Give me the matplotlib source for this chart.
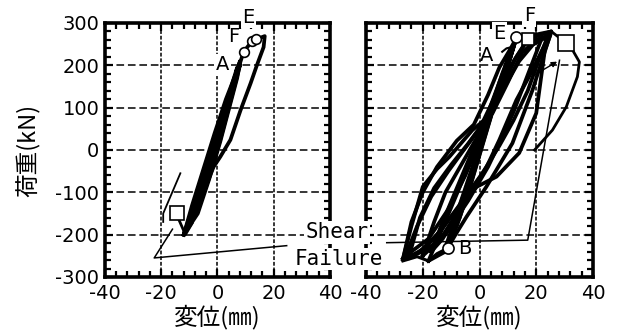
import matplotlib
matplotlib.use('Agg')
import matplotlib.pyplot as plt
from matplotlib.ticker import MultipleLocator

plt.rcParams['font.family'] = ['DejaVu Sans']
plt.rcParams['axes.unicode_minus'] = False
cjk = ['Noto Sans CJK JP', 'DejaVu Sans']

# ---- left specimen: hysteresis loops (displacement mm, load kN)
L1_x = [-12, -9, -5, -1, 3, 8, 7, 4, 1, -3, -7, -12]
L1_y = [-200, -130, -45, 40, 120, 205, 170, 95, 20, -70, -150, -200]
L2_x = [-11, -8, -4, 0, 4, 7, 6, 3, 0, -4, -8, -11]
L2_y = [-185, -120, -40, 45, 130, 195, 160, 80, 5, -85, -155, -185]
L3_x = [-10, -6, -2, 2, 6, 8, 7, 4, 1, -3, -7, -10]
L3_y = [-175, -95, -10, 80, 170, 200, 175, 100, 25, -65, -140, -175]
L5_x = [-12, -9.5, -6, -2, 2, 6, 8, 6.5, 3.5, 0, -4, -8, -12]
L5_y = [-200, -150, -85, -5, 75, 160, 210, 175, 110, 35, -50, -130, -200]
L6_x = [-9, -6, -3, 0, 3, 6, 5, 2, -1, -5, -9]
L6_y = [-165, -105, -40, 25, 95, 160, 140, 70, 0, -90, -165]
L4_x = [-12, -8, -4, 0, 4, 8, 9.3, 12.4, 14, 16.8, 16.4, 14, 11.8, 8.2, 4.6, 1, -1.4, -5, -9, -12]
L4_y = [-200, -125, -45, 35, 120, 205, 232, 258, 262, 269, 243, 200, 158, 94, 24, -16, -40, -100, -160, -200]
LV_x = [-13.7, -11.4, -9.0]
LV_y = [-165, -200, -173]
LP_x = [-19.3, -19.3, -13.2]
LP_y = [-170, -150, -55]
LS_x = [24.6, -22.5, -16]
LS_y = [-226, -255, -187]
L_circ_x = [9.3, 12.3, 13.6]
L_circ_y = [232, 258, 261]
L_sq_x = [-14.3]
L_sq_y = [-148]

# ---- right specimen
R1_x = [-27, -24, -20, -15, -8, -2, 3, 7, 11, 13, 18, 25.3, 22, 18, 13, 7, 2.5, -8, -14, -20, -27]
R1_y = [-258, -170, -100, -40, 22, 60, 130, 195, 240, 265, 270, 280, 235, 180, 118, 24, -40, -150, -213, -240, -258]
R2_x = [-18, -14, -9, -4, 2, 8, 13, 17, 25.3, 18.7, 11.6, 2.4, -4.6, -8.1, -12, -18]
R2_y = [-262, -200, -120, -40, 50, 150, 220, 262, 280, 142, 16, -87, -158, -196, -240, -262]
R3_x = [-26, -22, -17, -11, -5, 0, 5, 10, 13, 11, 8, 4, 0, -5, -11, -18, -26]
R3_y = [-250, -180, -110, -50, 5, 50, 120, 200, 265, 220, 160, 90, 20, -60, -140, -210, -250]
R4_x = [-17, -13, -8, -3, 2, 7, 11, 13, 10, 6, 2, -3, -8, -13, -17]
R4_y = [-240, -170, -90, -10, 70, 160, 230, 265, 200, 120, 40, -60, -150, -210, -240]
R5_x = [-12, -8, -4, 0, 4, 8, 10, 8, 4, 0, -4, -8, -12]
R5_y = [-230, -150, -70, 10, 100, 180, 215, 170, 80, -10, -100, -180, -230]
R6_x = [-27, -24, -20, -15, -10.6, -2.5, 4.6, 10, 15, 20, 25, 23, 20, 14, 6, -1, -8, -15, -21, -27]
R6_y = [-258, -180, -87, -45, -16, 47, 87, 160, 230, 260, 272, 235, 87, -7, -63, -87, -140, -200, -240, -258]
R7_x = [-20, -16, -12, -6, 0, 6, 12, 16, 22, 20, 16, 12, 8, 3, -4, -12, -20]
R7_y = [-250, -170, -100, -30, 40, 130, 210, 250, 265, 230, 160, 90, 30, -40, -120, -200, -250]
R8_x = [-25, -21, -16, -10, -4, 2, 8, 14, 19, 24, 21, 17, 12, 7, 1, -6, -13, -19, -25]
R8_y = [-255, -160, -90, -35, 15, 70, 140, 210, 250, 268, 215, 140, 70, 10, -55, -120, -185, -230, -255]
R9_x = [-10, -7, -3, 1, 5, 9, 11, 9, 5, 1, -3, -7, -10]
R9_y = [-205, -140, -60, 20, 110, 190, 230, 190, 100, 10, -80, -160, -205]
RF_x = [25.3, 30.6, 32.8, 35.2, 34.5, 30.6, 25.7, 19.4]
RF_y = [280, 252, 236, 208, 173, 102, 47, 0]
RC_x = [12.5, 11.3, 9.5, 8.0]
RC_y = [258, 243, 240, 232]
RB_x = [-27, -22, -18, -15, -11.2]
RB_y = [-262, -252, -262, -245, -232]
RS_x = [-32.7, 17, 28.2]
RS_y = [-219, -213, 212]
R_circ_x = [13, -11.2]
R_circ_y = [267, -232]
R_sqF_x = [17]
R_sqF_y = [262]
R_sq_x = [30.6]
R_sq_y = [252]

x_ticks = [-40, -20, 0, 20, 40]
y_ticks = [-300, -200, -100, 0, 100, 200, 300]

fig = plt.figure(figsize=(6.19, 3.32), dpi=100)
axL = fig.add_axes([0.1696, 0.1657, 0.3635, 0.7651])
axR = fig.add_axes([0.5913, 0.1657, 0.3667, 0.7651])


def style(ax, ylabels):
    ax.set_xlim(-40, 40)
    ax.set_ylim(-300, 300)
    ax.set_xticks(x_ticks)
    ax.set_yticks(y_ticks)
    ax.xaxis.set_minor_locator(MultipleLocator(4))
    ax.yaxis.set_minor_locator(MultipleLocator(20))
    ax.tick_params(which='both', direction='in', top=True, right=True,
                   width=1.6, labelsize=14)
    ax.tick_params(axis='x', pad=5)
    ax.tick_params(axis='y', pad=4)
    ax.tick_params(which='major', length=6)
    ax.tick_params(which='minor', length=4)
    if not ylabels:
        ax.tick_params(labelleft=False)
    for s in ax.spines.values():
        s.set_linewidth(2.6)
    for v in [-20, 0, 20]:
        ax.axvline(v, color='black', lw=1.1, ls=(0, (2.5, 1.2)), zorder=0)
    for h in [-200, -100, 0, 100, 200]:
        ax.axhline(h, color='black', lw=1.1, ls=(0, (5, 2.5)), zorder=0)
    ax.set_xlabel('変位(㎜)', family=cjk, fontsize=17)
    ax.xaxis.set_label_coords(0.5, -0.157)
    ax.xaxis.label.set_va('center')


style(axL, True)
style(axR, False)
axL.set_ylabel('荷重(kN)', family=cjk, fontsize=17)
axL.yaxis.set_label_coords(-0.342, 0.5)
axL.yaxis.label.set_va('center')

lw = 2.7
for xs, ys in [(L1_x, L1_y), (L2_x, L2_y), (L3_x, L3_y), (L5_x, L5_y),
               (L6_x, L6_y), (L4_x, L4_y)]:
    axL.plot(xs, ys, color='black', lw=lw, zorder=2)
axL.plot(LV_x, LV_y, color='black', lw=2.0, zorder=2)
axL.plot(LP_x, LP_y, color='black', lw=1.3, zorder=2)
axL.plot(LS_x, LS_y, color='black', lw=1.1, zorder=2)
axL.plot(L_circ_x, L_circ_y, 'o', ms=7, mfc='white', mec='black', mew=1.2, zorder=3)
axL.plot(L_sq_x, L_sq_y, 's', ms=10, mfc='white', mec='black', mew=1.2, zorder=3)

box = dict(facecolor='white', edgecolor='none', pad=1)
axL.text(11, 313, 'E', fontsize=14, ha='center', va='center', bbox=box,
         clip_on=False, zorder=5)
axL.text(5.7, 267, 'F', fontsize=14, ha='center', va='center', zorder=5)
axL.text(1.8, 201, 'A', fontsize=14, ha='center', va='center', bbox=box, zorder=5)

for xs, ys in [(R1_x, R1_y), (R2_x, R2_y), (R3_x, R3_y), (R4_x, R4_y),
               (R5_x, R5_y), (R6_x, R6_y), (R7_x, R7_y), (R8_x, R8_y),
               (R9_x, R9_y)]:
    axR.plot(xs, ys, color='black', lw=lw, zorder=2)
axR.plot(RF_x, RF_y, color='black', lw=2.0, zorder=2)
axR.plot(RC_x, RC_y, color='black', lw=1.5, zorder=2)
axR.plot(RB_x, RB_y, color='black', lw=2.2, zorder=2)
axR.plot(RS_x, RS_y, color='black', lw=1.1, zorder=2)
axR.annotate('', xy=(RS_x[-1], RS_y[-1]), xytext=(RS_x[-2] + 1, RS_y[-1] - 40),
             arrowprops=dict(arrowstyle='-|>', color='black', lw=1.0,
                             mutation_scale=8))
axR.plot(R_circ_x, R_circ_y, 'o', ms=8, mfc='white', mec='black', mew=1.2, zorder=3)
axR.plot(R_sqF_x, R_sqF_y, 's', ms=8, mfc='white', mec='black', mew=1.2, zorder=3)
axR.plot(R_sq_x, R_sq_y, 's', ms=11, mfc='white', mec='black', mew=1.2, zorder=3)
axR.text(7, 276, 'E', fontsize=14, ha='center', va='center', bbox=box,
         clip_on=False, zorder=5)
axR.text(17.6, 317, 'F', fontsize=14, ha='center', va='center', bbox=box,
         clip_on=False, zorder=5)
axR.text(2.5, 224, 'A', fontsize=14, ha='center', va='center', zorder=5)
axR.text(-5.3, -232, 'B', fontsize=14, ha='center', va='center', zorder=5)

fig.text(0.545, 0.301, 'Shear', family='DejaVu Sans Mono', fontsize=15,
         ha='center', va='center', bbox=dict(facecolor='white', edgecolor='none', pad=1))
fig.text(0.547, 0.22, 'Failure', family='DejaVu Sans Mono', fontsize=15,
         ha='center', va='center', bbox=dict(facecolor='white', edgecolor='none', pad=1))

fig.savefig('out.png', dpi=100)
